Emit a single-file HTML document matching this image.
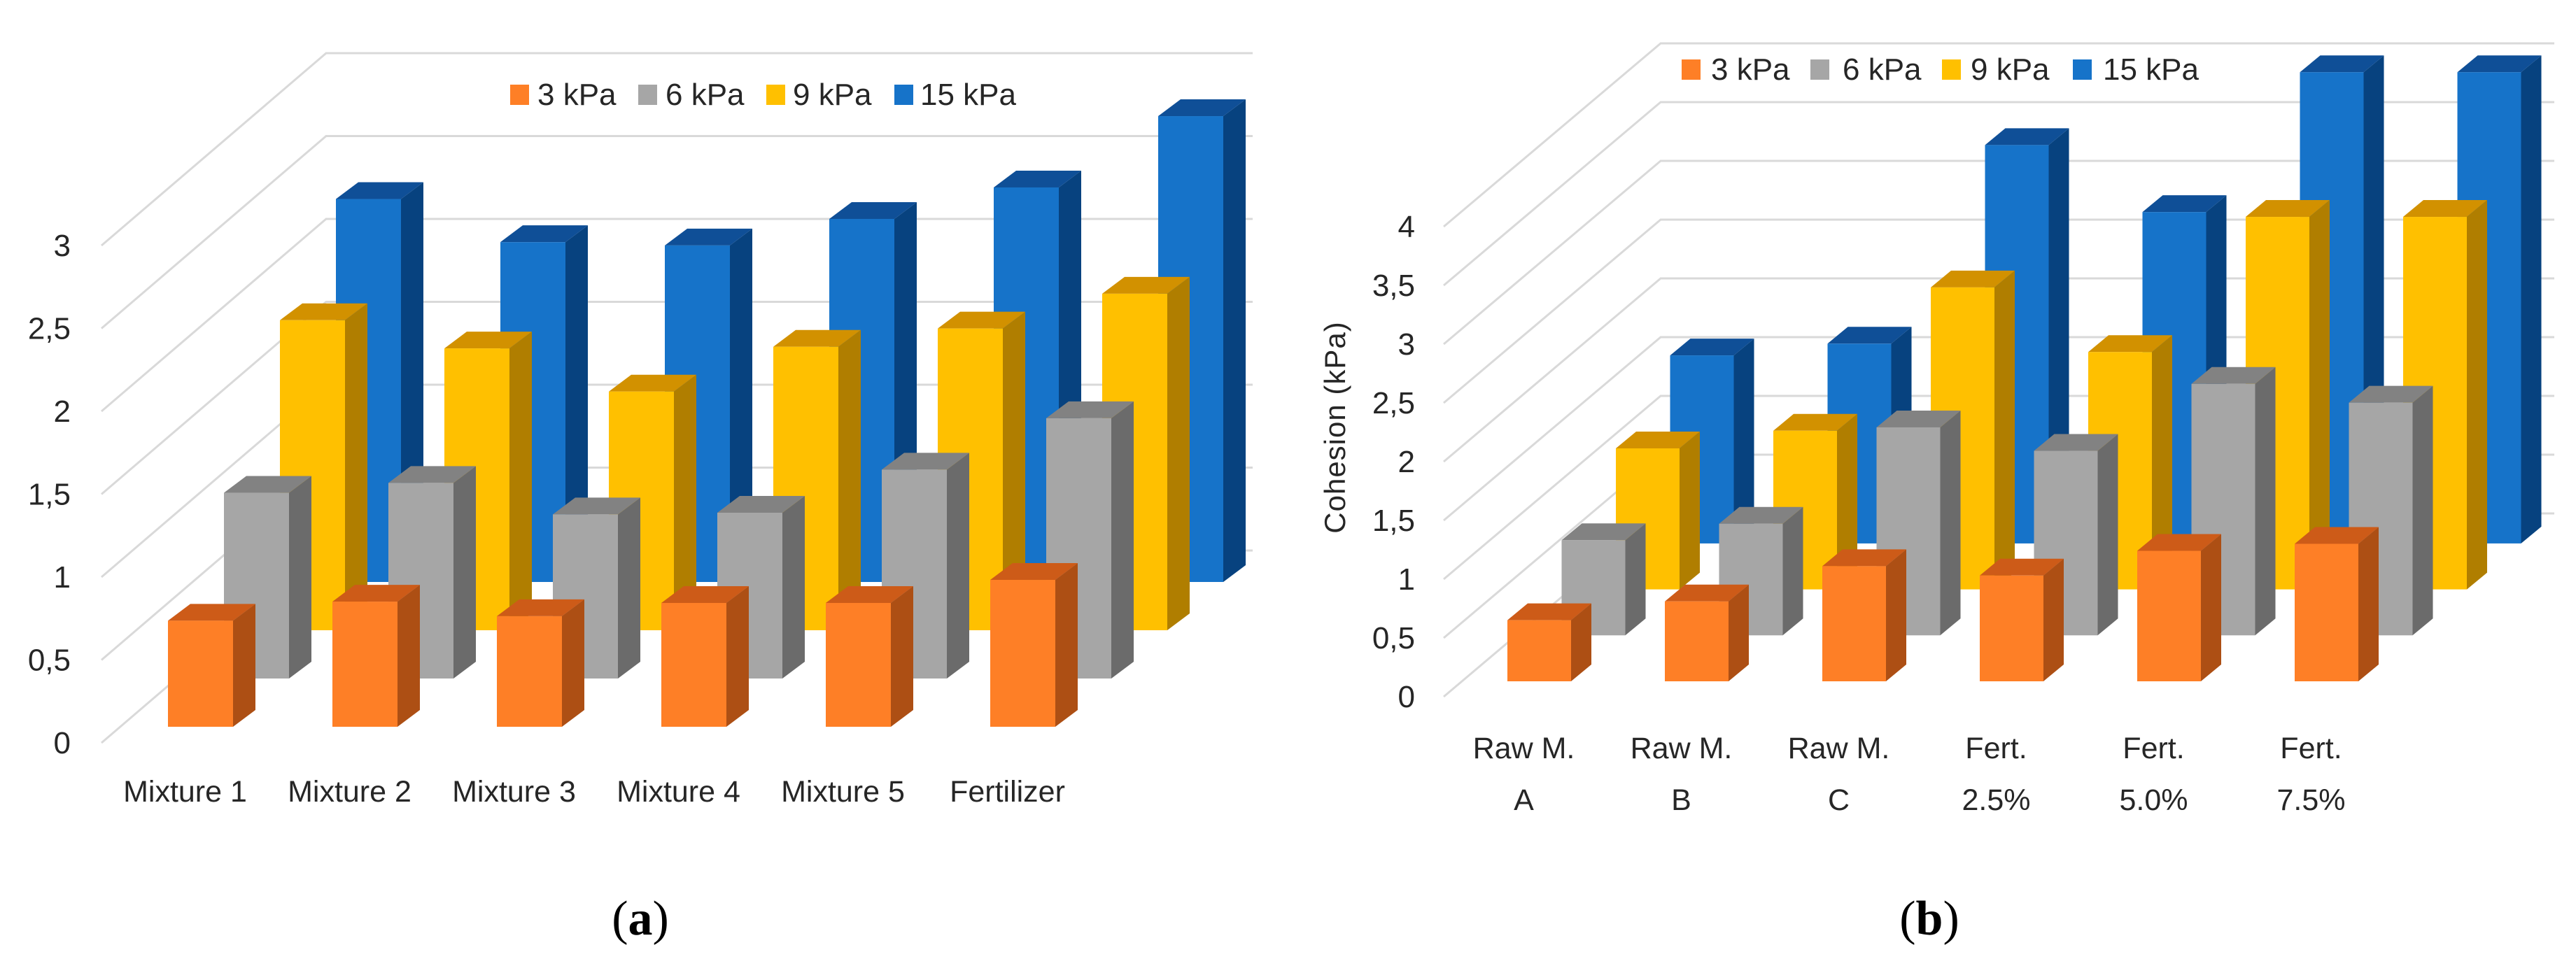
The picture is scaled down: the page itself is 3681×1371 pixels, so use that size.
<!DOCTYPE html>
<html><head><meta charset="utf-8"><style>
html,body{margin:0;padding:0;background:#fff;}
svg{display:block;}
text{font-family:"Liberation Sans",sans-serif;fill:#262626;}
</style></head>
<body>
<svg id="fig" width="3681" height="1371" viewBox="0 0 3681 1371" xmlns="http://www.w3.org/2000/svg">
<g id="chartA"></g>
<g id="chartB"></g>
<text x="915" y="1336" text-anchor="middle" style="font-family:'Liberation Serif',serif;font-size:70px;fill:#000">(<tspan font-weight="bold">a</tspan>)</text>
<text x="2757" y="1336" text-anchor="middle" style="font-family:'Liberation Serif',serif;font-size:70px;fill:#000">(<tspan font-weight="bold">b</tspan>)</text>
<text x="0" y="0" transform="translate(1922,611) rotate(-90)" text-anchor="middle" style="font-size:42px;letter-spacing:1px">Cohesion (kPa)</text>
</svg>
<script>
// ---- data: chart (a) ----
const catsA = ["Mixture 1","Mixture 2","Mixture 3","Mixture 4","Mixture 5","Fertilizer"];
const a3kPa = [0.64,0.755,0.667,0.747,0.747,0.886];
const a6kPa = [1.12,1.18,0.99,1.00,1.26,1.57];
const a9kPa = [1.87,1.70,1.44,1.71,1.82,2.03];
const a15kPa = [2.31,2.05,2.03,2.19,2.38,2.81];
const ticksA = [0,0.5,1,1.5,2,2.5,3];
const tickLabelsA = ["0","0,5","1","1,5","2","2,5","3"];
// ---- data: chart (b) ----
const catsB = [["Raw M.","A"],["Raw M.","B"],["Raw M.","C"],["Fert.","2.5%"],["Fert.","5.0%"],["Fert.","7.5%"]];
const b3kPa = [0.52,0.68,0.98,0.90,1.11,1.17];
const b6kPa = [0.81,0.95,1.77,1.57,2.14,1.98];
const b9kPa = [1.20,1.35,2.57,2.02,3.17,3.17];
const b15kPa = [1.60,1.70,3.39,2.82,4.01,4.01];
const ticksB = [0,0.5,1,1.5,2,2.5,3,3.5,4];
const tickLabelsB = ["0","0,5","1","1,5","2","2,5","3","3,5","4"];
const seriesNames = ["3 kPa","6 kPa","9 kPa","15 kPa"];

const NS="http://www.w3.org/2000/svg";
const colors=[
 {f:"#fe7f26",t:"#cd5b18",s:"#ad4f14"},
 {f:"#a6a6a6",t:"#828282",s:"#6b6b6b"},
 {f:"#ffc000",t:"#d29100",s:"#b07e00"},
 {f:"#1673c9",t:"#0f4f97",s:"#07427f"}];
function mk(tag,attrs,parent){const e=document.createElementNS(NS,tag);for(const k in attrs)e.setAttribute(k,attrs[k]);parent.appendChild(e);return e;}

function drawChart(g,cfg){
  const yFront=v=>cfg.y0Front-v*cfg.unit;
  // gridlines
  cfg.ticks.forEach((v,i)=>{
    const yf=yFront(v);
    const pl=mk("polyline",{points:`${cfg.gx0},${yf} ${cfg.gx0+cfg.gdx},${yf+cfg.gdy} ${cfg.gxEnd},${yf+cfg.gdy}`,fill:"none",stroke:"#d9d9d9","stroke-width":3},g);
    
    
    const t=mk("text",{x:cfg.tickX,y:yf+15,"text-anchor":"end","font-size":44},g);
    t.textContent=cfg.tickLabels[i];
    
    
  });
  // bars: back row first
  for(let r=cfg.series.length-1;r>=0;r--){
    const vals=cfg.series[r];const c=colors[r];
    const base=cfg.base0+r*cfg.rowDy;
    vals.forEach((v,i)=>{
      const x=cfg.x0+i*cfg.step+r*cfg.rowDx;
      const top=base-v*cfg.unit;
      const w=cfg.bw,dx=cfg.ddx,dy=cfg.ddy;
      const bg=mk("g",{},g);
      
      
      mk("polygon",{points:`${x+w},${top} ${x+w+dx},${top+dy} ${x+w+dx},${base+dy} ${x+w},${base}`,fill:c.s},bg);
      mk("polygon",{points:`${x},${top} ${x+dx},${top+dy} ${x+w+dx},${top+dy} ${x+w},${top}`,fill:c.t},bg);
      mk("rect",{x:x,y:top,width:w,height:base-top,fill:c.f},bg);
    });
  }
  // category labels
  cfg.cats.forEach((lab,i)=>{
    const cx=cfg.x0+i*cfg.step+cfg.bw/2+cfg.labOff;
    const lines=Array.isArray(lab)?lab:[lab];
    lines.forEach((ln,j)=>{
      const t=mk("text",{x:cx,y:cfg.labY+j*cfg.labDy,"text-anchor":"middle","font-size":43},g);
      t.textContent=ln;
      
      
    });
  });
  // legend
  cfg.legend.forEach((L,i)=>{
    const lg=mk("g",{},g);
    
    
    mk("rect",{x:L[0],y:cfg.legY-14,width:27,height:29,fill:colors[i].f},lg);
    const t=mk("text",{x:L[1],y:cfg.legY+15,"font-size":44},lg);
    t.textContent=seriesNames[i];
  });
}

drawChart(document.getElementById('chartA'),{
  series:[a3kPa,a6kPa,a9kPa,a15kPa],ticks:ticksA,tickLabels:tickLabelsA,cats:catsA,
  y0Front:1062,unit:237,gx0:145,gdx:321,gdy:-275,gxEnd:1790,tickX:101,
  base0:1039,rowDy:-69,rowDx:80,x0:240,step:235,bw:93,ddx:32,ddy:-24,
  labOff:-22,labY:1146,labDy:0,legY:135,
  legend:[[729,768],[912,951],[1095,1133],[1278,1315]]
});
drawChart(document.getElementById('chartB'),{
  series:[b3kPa,b6kPa,b9kPa,b15kPa],ticks:ticksB,tickLabels:tickLabelsB,cats:catsB,
  y0Front:996,unit:168,gx0:2063,gdx:310,gdy:-262,gxEnd:3650,tickX:2022,
  base0:974,rowDy:-65.7,rowDx:77.5,x0:2154,step:225,bw:91,ddx:29,ddy:-24,
  labOff:-22,labY:1084,labDy:74,legY:99,
  legend:[[2403,2445],[2587,2633],[2775,2816],[2962,3005]]
});
</script>
</body></html>
